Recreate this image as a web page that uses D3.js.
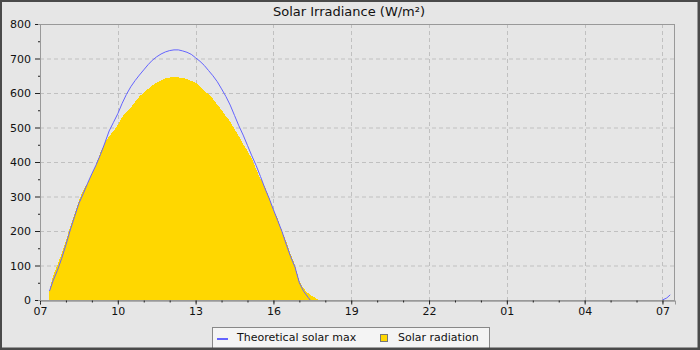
<!DOCTYPE html>
<html><head><meta charset="utf-8">
<script src="https://cdn.jsdelivr.net/npm/d3@7/dist/d3.min.js"></script>
<style>html,body{margin:0;padding:0;background:#e6e6e6;}svg{display:block;}</style>
</head><body>
<svg id="chart" width="700" height="350"></svg>
<script>
// ---------- data ----------
const title = "Solar Irradiance (W/m\u00B2)";
const seriesNames = ["Theoretical solar max", "Solar radiation"];
const domainStart = "2024-01-01 07:00";
const domainEnd = "2024-01-02 07:29";
const yTicks = [0, 100, 200, 300, 400, 500, 600, 700, 800];
const xTickLabels = ["07", "10", "13", "16", "19", "22", "01", "04", "07"];

// Theoretical solar max (day 1)
const maxTimesDay1 = ["07:22","07:30","07:40","07:50","08:00","08:10","08:20","08:30","08:40","08:50",
  "09:00","09:10","09:20","09:30","09:40","09:50","10:00","10:10","10:20","10:30","10:40","10:50",
  "11:00","11:10","11:20","11:30","11:40","11:50","12:00","12:10","12:20","12:30","12:40","12:50",
  "13:00","13:10","13:20","13:30","13:40","13:50","14:00","14:10","14:20","14:30","14:40","14:50",
  "15:00","15:10","15:20","15:30","15:40","15:50","16:00","16:10","16:20","16:30","16:40","16:50",
  "17:00","17:10","17:20","17:25"];
const maxValuesDay1 = [26,55,85,120,160,203,242,280,308,338,
  366,392,422,455,490,515,540,570,596,618,636,652,
  667,682,695,705,713,719,723,725,725,722,718,712,
  702,692,680,665,650,633,612,590,565,535,505,478,
  448,418,390,358,325,295,262,230,198,160,125,95,
  50,25,8,0];
// Theoretical solar max (day 2)
const maxTimesDay2 = ["07:00","07:10","07:18"];
const maxValuesDay2 = [0,6,15];

// Solar radiation
const radTimes = ["07:21","07:30","07:40","07:50","08:00","08:10","08:20","08:30","08:40","08:50",
  "09:00","09:10","09:20","09:30","09:40","09:50","10:00","10:10","10:20","10:30","10:40","10:50",
  "11:00","11:10","11:20","11:30","11:40","11:50","12:00","12:10","12:20","12:30","12:40","12:50",
  "13:00","13:10","13:20","13:30","13:40","13:50","14:00","14:10","14:20","14:30","14:40","14:50",
  "15:00","15:10","15:20","15:30","15:40","15:50","16:00","16:10","16:20","16:30","16:40","16:50",
  "17:00","17:10","17:20","17:30","17:40","17:45"];
const radValues = [24,70,100,135,172,212,250,288,318,340,
  366,394,428,455,474,490,507,530,546,558,574,590,
  601,612,622,630,637,642,645,645,645,644,640,635,
  630,618,606,597,583,566,551,533,517,495,475,452,
  432,410,378,352,330,298,261,235,200,168,133,100,
  55,33,20,11,4,0];

// ---------- layout ----------
const W = 700, H = 350;
const M = {left: 40, right: 675, top: 24, bottom: 300};
const parse = d3.timeParse("%Y-%m-%d %H:%M");
const day1 = "2024-01-01 ", day2 = "2024-01-02 ";

const svg = d3.select("#chart");
const font = "'DejaVu Sans', sans-serif";

const x = d3.scaleTime().domain([parse(domainStart), parse(domainEnd)]).range([M.left, M.right]);
const y = d3.scaleLinear().domain([0, 800]).range([M.bottom, M.top]);

// background
svg.append("rect").attr("x", 0).attr("y", 0).attr("width", W).attr("height", H).attr("fill", "#e6e6e6");

// title
svg.append("text").attr("x", 349).attr("y", 16).attr("text-anchor", "middle")
  .attr("font-family", font).attr("font-size", 13).attr("fill", "#111").text(title);

// grid
const xMajor = d3.timeHour.range(parse(domainStart), d3.timeMinute.offset(parse(domainEnd), 1), 3);
const grid = svg.append("g");
grid.selectAll("line.h").data(yTicks.filter(v => v > 0 && v < 800)).join("line")
  .attr("x1", M.left).attr("x2", M.right).attr("y1", d => y(d) + 0.5).attr("y2", d => y(d) + 0.5)
  .attr("stroke", "#c0c0c0").attr("stroke-dasharray", "4,3");
grid.selectAll("line.v").data(xMajor.slice(1)).join("line")
  .attr("x1", d => Math.round(x(d)) + 0.5).attr("x2", d => Math.round(x(d)) + 0.5)
  .attr("y1", M.top).attr("y2", M.bottom)
  .attr("stroke", "#c0c0c0").attr("stroke-dasharray", "4,3");

// clip
svg.append("clipPath").attr("id", "clip").append("rect")
  .attr("x", M.left).attr("y", M.top).attr("width", M.right - M.left).attr("height", M.bottom - M.top);

const rad = radTimes.map((t, i) => ({t: parse(day1 + t), v: radValues[i]}));
const max1 = maxTimesDay1.map((t, i) => ({t: parse(day1 + t), v: maxValuesDay1[i]}));
const max2 = maxTimesDay2.map((t, i) => ({t: parse(day2 + t), v: maxValuesDay2[i]}));

const plot = svg.append("g").attr("clip-path", "url(#clip)");
plot.append("path").datum(rad)
  .attr("d", d3.area().x(d => x(d.t)).y0(y(0)).y1(d => y(d.v)))
  .attr("fill", "#ffd700").attr("shape-rendering", "crispEdges");
const line = d3.line().x(d => x(d.t)).y(d => y(d.v));
[max1, max2].forEach(seg => {
  plot.append("path").datum(seg).attr("d", line)
    .attr("fill", "none").attr("stroke", "#6464ff").attr("stroke-width", 1);
});

// frame
svg.append("rect").attr("x", M.left + 0.5).attr("y", M.top + 0.5)
  .attr("width", M.right - M.left - 1).attr("height", M.bottom - M.top)
  .attr("fill", "none").attr("stroke", "#999");

// axes
const xAxis = svg.append("g").attr("transform", `translate(0,${M.bottom + 0.5})`)
  .call(d3.axisBottom(x).tickValues(xMajor).tickFormat((d, i) => xTickLabels[i]).tickSize(4).tickPadding(3));
const xMinor = svg.append("g").attr("transform", `translate(0,${M.bottom + 0.5})`)
  .call(d3.axisBottom(x).tickValues(d3.timeHour.range(parse(domainStart), parse(domainEnd), 1)).tickFormat("").tickSize(2));
const yAxis = svg.append("g").attr("transform", `translate(${M.left},0)`)
  .call(d3.axisLeft(y).tickValues(yTicks).tickSize(5).tickPadding(4));
const yMinor = svg.append("g").attr("transform", `translate(${M.left},0)`)
  .call(d3.axisLeft(y).tickValues(yTicks.slice(0, -1).map(v => v + 50)).tickFormat("").tickSize(2));
[xAxis, xMinor, yAxis, yMinor].forEach(g => {
  g.select(".domain").attr("stroke", "#999");
  g.selectAll(".tick line").attr("stroke", "#222");
  g.selectAll("text").attr("font-family", font).attr("font-size", 11).attr("fill", "#111");
});

// legend
const lg = svg.append("g");
lg.append("rect").attr("x", 212.5).attr("y", 327.5).attr("width", 277).attr("height", 24)
  .attr("fill", "#f4f4f4").attr("stroke", "#888");
lg.append("line").attr("x1", 217).attr("x2", 228).attr("y1", 339).attr("y2", 339)
  .attr("stroke", "#6464ff").attr("stroke-width", 2);
lg.append("text").attr("x", 237).attr("y", 341).attr("font-family", font).attr("font-size", 11)
  .attr("fill", "#111").text(seriesNames[0]);
lg.append("rect").attr("x", 380.5).attr("y", 334.5).attr("width", 7).attr("height", 7)
  .attr("fill", "#ffd700").attr("stroke", "#777");
lg.append("text").attr("x", 398).attr("y", 341).attr("font-family", font).attr("font-size", 11)
  .attr("fill", "#111").text(seriesNames[1]);

// outer border
svg.append("path").attr("d", `M1,1H${W - 1.5}V${H - 1.5}H1Z`).attr("fill", "none")
  .attr("stroke", "#4a4a4a").attr("stroke-width", 2);
svg.append("line").attr("x1", W - 1).attr("x2", W - 1).attr("y1", 0).attr("y2", H).attr("stroke", "#4a4a4a").attr("stroke-width", 2);
svg.append("line").attr("x1", 0).attr("x2", W).attr("y1", H - 1).attr("y2", H - 1).attr("stroke", "#4a4a4a").attr("stroke-width", 2);
</script>
</body></html>
